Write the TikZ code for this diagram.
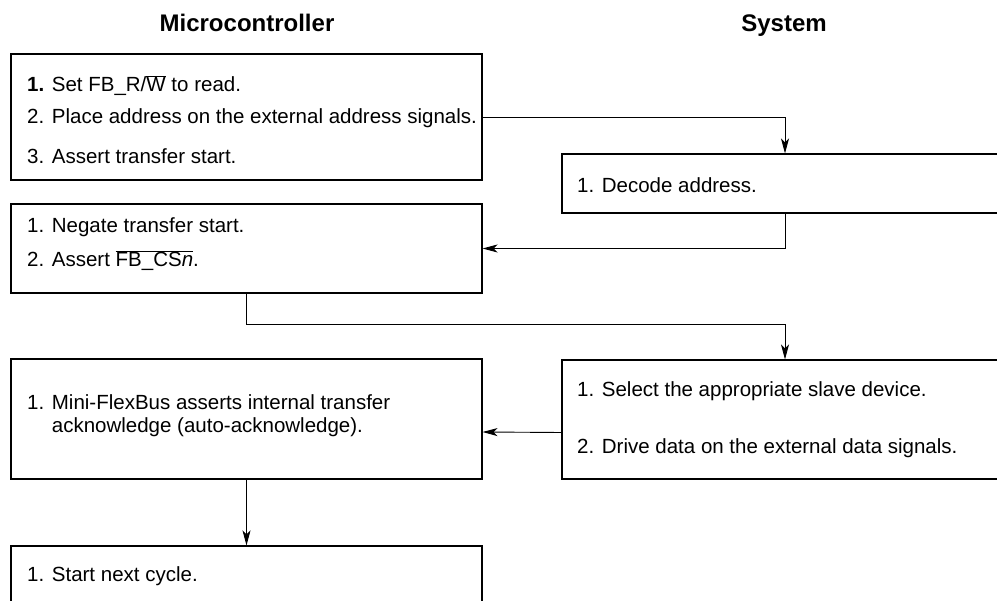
\documentclass[tikz,border=0pt]{standalone}
\usepackage{fontspec}
\setmainfont{Liberation Sans}
\usetikzlibrary{arrows.meta, calc, positioning}

\newcommand{\ovl}[1]{\ensuremath{\overline{\hbox{#1}}}}

\tikzset{
  box/.style={draw, line width=1.1pt, rectangle, inner sep=0pt},
  item/.style={anchor=base west, inner sep=0pt},
  head/.style={anchor=base, inner sep=0pt, font=\fontsize{24}{28}\selectfont\bfseries},
  flow/.style={line width=0.9pt, -{Stealth[length=15pt,width=8pt,inset=4pt]}}
}

\begin{document}
\begin{tikzpicture}[x=1pt, y=-1pt, font=\fontsize{20.5}{23.5}\selectfont]
\clip (0,0) rectangle (997,601);
% --- column headings ---
\node[head] (mchead) at (247,32) {Microcontroller};
\node[head] (syshead) at (784,32) {System};
% --- microcontroller side ---
\node[box, minimum width=471pt, minimum height=126pt] (mcaddr) at (246.5,117) {};
\node[item] (rw) at (27,92) {\textbf{1.} Set FB\_R/\ovl{W} to read.};
\node[item] (place) at (27,124) {2. Place address on the external address signals.};
\node[item] (tstart) at (27,164) {3. Assert transfer start.};
\node[box, minimum width=471pt, minimum height=89pt] (negate) at (246.5,248.5) {};
\node[item] (neg) at (27,233) {1. Negate transfer start.};
\node[item] (cs) at (27,267) {2. Assert \ovl{FB\_CS\textit{n}}.};
\node[box, minimum width=471pt, minimum height=120pt] (mini) at (246.5,419) {};
\node[item] (ack) at (27,410) {1. Mini-FlexBus asserts internal transfer};
\node[item] (acktwo) at (27,433) {\phantom{1. }acknowledge (auto-acknowledge).};
\node[box, minimum width=471pt, minimum height=114pt] (next) at (246.5,603) {};
\node[item] (cycle) at (27,582) {1. Start next cycle.};
% --- system side ---
\node[box, minimum width=446pt, minimum height=59pt] (decode) at (785,183.5) {};
\node[item] (dec) at (577,193) {1. Decode address.};
\node[box, minimum width=446pt, minimum height=119pt] (select) at (785,419.5) {};
\node[item] (slave) at (577,397) {1. Select the appropriate slave device.};
\node[item] (drive) at (577,454) {2. Drive data on the external data signals.};
% --- connectors ---
\draw[flow] (mcaddr.east |- 0,117) -| (decode.north);
\draw[flow] (decode.south) |- (negate.east);
\draw[flow] (negate.south) -- ++(0,31) -| (select.north);
\draw[flow] ([yshift=-13pt]select.west) -- ([yshift=-13pt]mini.east);
\draw[flow] (mini.south) -- (next.north);
\end{tikzpicture}
\end{document}
